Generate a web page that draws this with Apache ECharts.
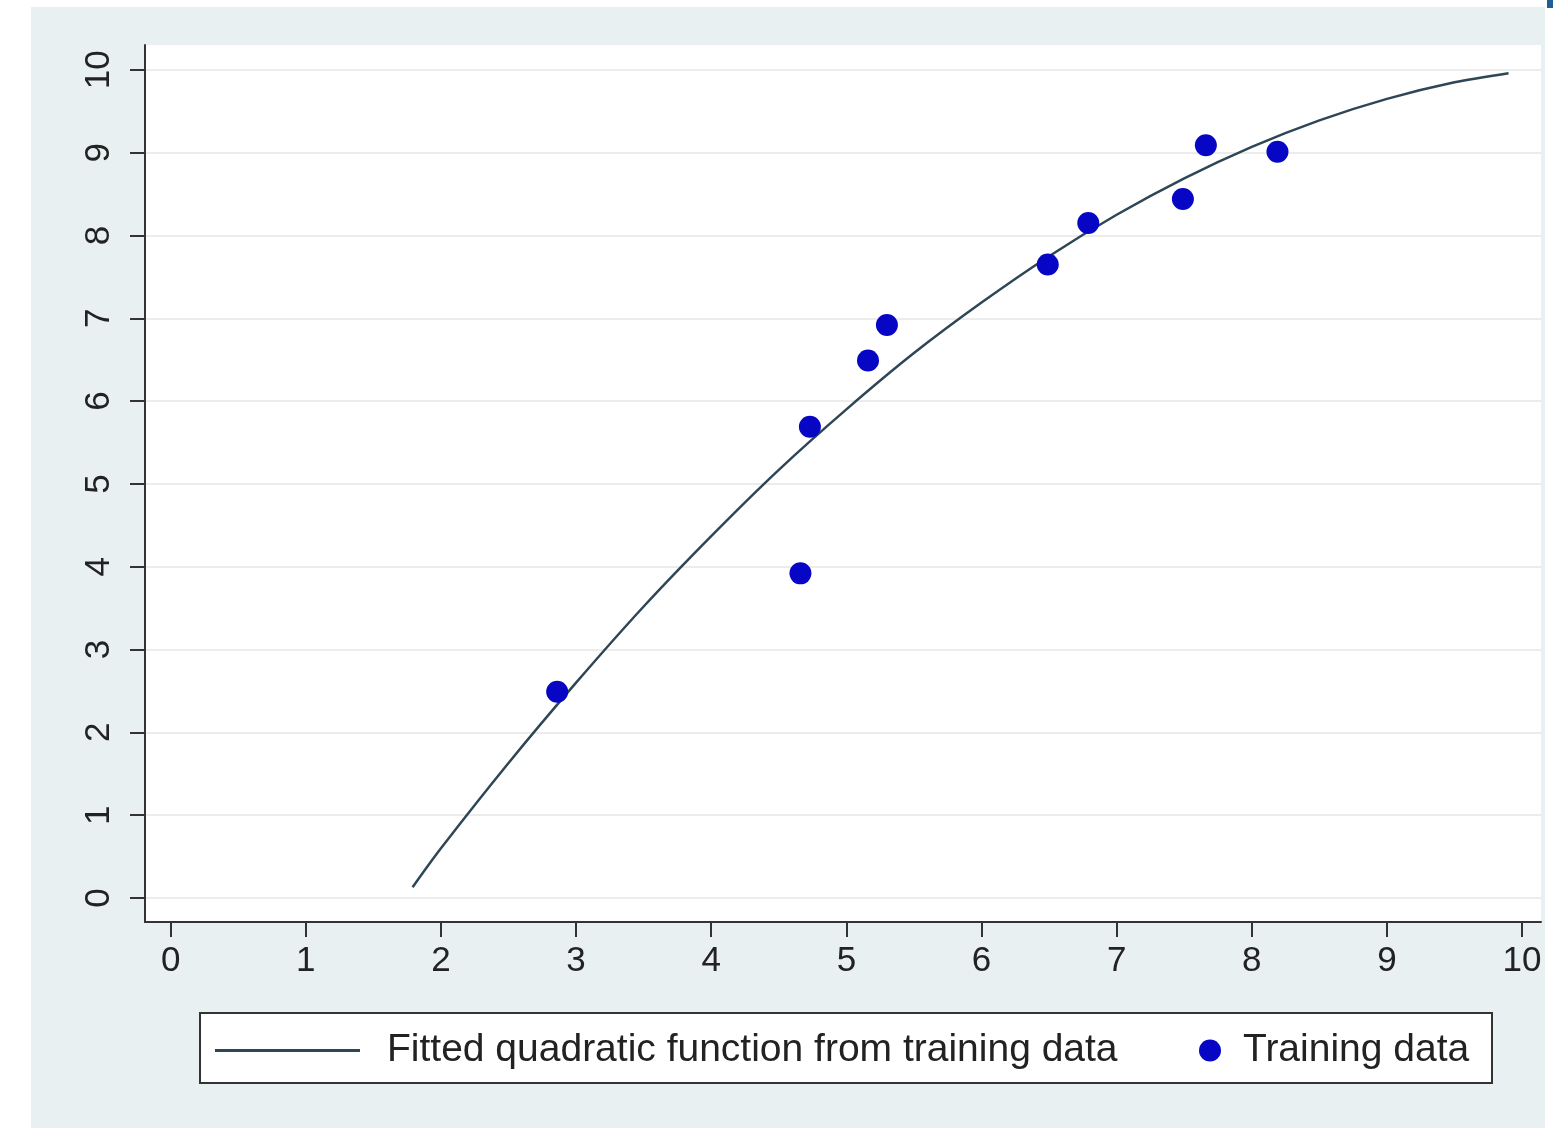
<!DOCTYPE html>
<html><head><meta charset="utf-8">
<script src="https://cdn.jsdelivr.net/npm/echarts@6/dist/echarts.min.js"></script>
<style>html,body{margin:0;padding:0;background:#fff}#c{width:1553px;height:1128px}</style>
</head><body><div id="c"></div>
<script>
// ---- data ----
const xTicks = [0, 1, 2, 3, 4, 5, 6, 7, 8, 9, 10];
const yTicks = [0, 1, 2, 3, 4, 5, 6, 7, 8, 9, 10];
const trainX = [2.86, 4.66, 4.73, 5.16, 5.30, 6.49, 6.79, 7.49, 7.66, 8.19];
const trainY = [2.49, 3.92, 5.69, 6.49, 6.92, 7.65, 8.15, 8.44, 9.09, 9.01];
const fitX = [1.79, 2.0, 2.5, 3.0, 3.5, 4.0, 4.5, 5.0, 5.5, 6.0, 6.5, 7.0, 7.5, 8.0, 8.5, 9.0, 9.5, 9.9];
const fitY = [0.13, 0.60, 1.63, 2.60, 3.52, 4.37, 5.17, 5.90, 6.58, 7.19, 7.75, 8.25, 8.69, 9.07, 9.39, 9.65, 9.85, 9.96];
const seriesNames = ['Fitted quadratic function from training data', 'Training data'];

const FONT = '"Liberation Sans", Arial, Helvetica, sans-serif';
const chart = echarts.init(document.getElementById('c'), null, {renderer: 'canvas'});

chart.setOption({
  backgroundColor: '#ffffff',
  animation: false,
  graphic: [
    {type: 'rect', z: -10, shape: {x: 31, y: 7, width: 1514, height: 1121}, style: {fill: '#e9f0f2'}},
    {type: 'rect', z: -10, shape: {x: 1547, y: 0, width: 6, height: 8}, style: {fill: '#1f5e96'}},
    {type: 'rect', z: 1, shape: {x: 200, y: 1013, width: 1292, height: 70}, style: {fill: '#ffffff', stroke: '#333333', lineWidth: 2}}
  ],
  grid: {left: 145, top: 45, right: 12, bottom: 206, show: true, backgroundColor: '#ffffff', borderWidth: 0},
  xAxis: {
    type: 'value', min: -0.19, max: 10.14,
    axisLine: {show: true, onZero: false, lineStyle: {color: '#333333', width: 2}},
    axisTick: {show: true, customValues: xTicks, length: 15, lineStyle: {color: '#333333', width: 2}},
    axisLabel: {customValues: xTicks, fontSize: 35, color: '#222222', fontFamily: FONT, margin: 22},
    splitLine: {show: false}
  },
  yAxis: {
    type: 'value', min: -0.29, max: 10.3,
    axisLine: {show: true, onZero: false, lineStyle: {color: '#333333', width: 2}},
    axisTick: {show: true, customValues: yTicks, length: 15, lineStyle: {color: '#333333', width: 2}},
    axisLabel: {customValues: yTicks, rotate: 90, fontSize: 35, color: '#222222', fontFamily: FONT, margin: 28},
    splitLine: {show: true, customValues: yTicks, lineStyle: {color: '#ececec', width: 2}}
  },
  legend: [
    {
      left: 215, top: 1031, padding: 0, itemWidth: 145, itemHeight: 3,
      data: [{name: seriesNames[0], icon: 'rect'}],
      textStyle: {fontSize: 39, color: '#222222', fontFamily: FONT, padding: [0, 0, 0, 22]},
      z: 5
    },
    {
      left: 1199, top: 1031, padding: 0, itemWidth: 22, itemHeight: 22,
      data: [{name: seriesNames[1], icon: 'circle'}],
      textStyle: {fontSize: 39, color: '#222222', fontFamily: FONT, padding: [0, 0, 0, 17]},
      z: 5
    }
  ],
  series: [
    {
      name: seriesNames[0], type: 'line', showSymbol: false, symbol: 'none', smooth: 0.3,
      color: '#2f4656', lineStyle: {color: '#2f4656', width: 2.5},
      data: fitX.map((x, i) => [x, fitY[i]]), z: 2
    },
    {
      name: seriesNames[1], type: 'scatter', symbol: 'circle', symbolSize: 22,
      itemStyle: {color: '#0606c4', opacity: 1},
      data: trainX.map((x, i) => [x, trainY[i]]), z: 3
    }
  ]
});
</script></body></html>
